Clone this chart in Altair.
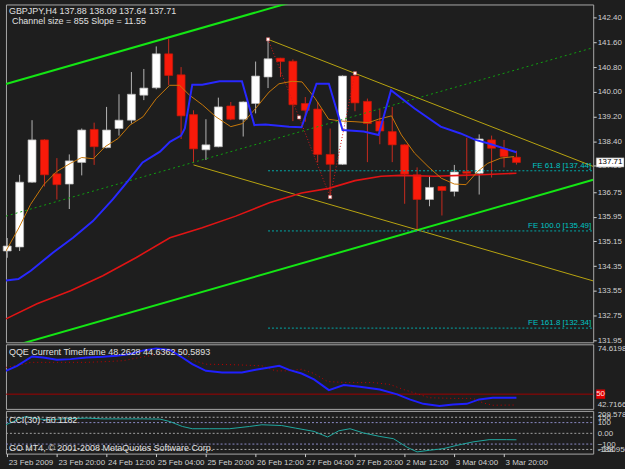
import altair as alt
import pandas as pd

BG = "#1e1e1e"
FONT = "Liberation Sans"

# ---------------- data ----------------
bar_k = list(range(42))
opens = [134.84, 134.97, 137.07, 138.44, 137.34, 137.01, 137.71, 138.78, 138.19, 138.81,
         139.08, 139.89, 140.13, 141.23, 140.55, 139.26, 138.12, 138.22, 139.54, 139.11,
         139.62, 140.48, 141.09, 140.99, 139.62, 139.44, 137.97, 137.65, 140.51, 139.69,
         139.05, 138.71, 138.28, 137.31, 136.51, 136.93, 136.77, 137.42, 137.36, 138.44,
         138.15, 137.88]
highs = [135.26, 137.31, 139.08, 138.46, 137.85, 137.97, 138.81, 139.00, 139.51, 139.92,
         140.64, 140.74, 141.47, 141.71, 140.80, 139.40, 139.11, 139.81, 139.67, 139.69,
         140.98, 141.70, 141.10, 141.05, 139.83, 139.67, 138.81, 140.53, 140.60, 139.78,
         139.44, 139.51, 138.30, 137.55, 137.26, 136.95, 137.63, 138.51, 138.62, 138.58,
         138.44, 138.09]
lows = [134.62, 134.84, 137.05, 136.93, 136.51, 136.20, 137.29, 137.63, 138.17, 138.58,
        138.97, 139.73, 140.08, 140.21, 138.47, 137.69, 137.79, 138.20, 139.08, 138.55,
        139.30, 140.12, 140.48, 139.05, 139.03, 137.71, 136.61, 137.63, 139.37, 137.72,
        138.30, 137.72, 136.37, 135.51, 136.29, 135.99, 136.61, 137.15, 136.67, 137.22,
        137.55, 137.64]
closes = [135.00, 137.07, 138.44, 137.31, 136.99, 137.76, 138.76, 138.22, 138.76, 139.08,
          139.92, 140.12, 141.23, 140.53, 139.22, 138.15, 138.28, 139.51, 139.11, 139.67,
          140.51, 141.07, 140.98, 139.58, 139.40, 137.97, 137.65, 140.51, 139.64, 138.97,
          138.73, 138.28, 137.33, 136.51, 136.90, 136.80, 137.40, 137.36, 138.47, 138.17,
          137.90, 137.71]

red_ma_k = [-0.1, 2.4, 5.1, 7.7, 10.4, 13.1, 15.7, 18.4, 21.1, 23.7, 25.9, 28.0, 30.1,
            31.7, 34.4, 36.5, 38.1, 41.0]
red_ma_v = [132.64, 133.13, 133.55, 134.04, 134.63, 135.27, 135.59, 135.97, 136.40, 136.72,
            136.87, 137.12, 137.26, 137.29, 137.26, 137.29, 137.31, 137.36]

blue_k = [-0.1, 0.9, 1.9, 3.7, 5.3, 6.9, 8.5, 9.7, 10.9, 12.3, 13.1, 14.0, 14.3, 14.9, 15.7,
          17.1, 18.9, 19.9, 20.8, 22.7, 23.7, 24.9, 25.9, 27.0, 28.7, 29.9, 30.9, 32.8, 34.9,
          36.5, 37.7, 38.7, 41.0]
blue_v = [133.88, 133.93, 134.20, 134.79, 135.27, 135.81, 136.51, 137.10, 137.71, 138.06,
          138.38, 138.58, 138.81, 140.23, 140.23, 140.34, 140.34, 138.92, 138.94, 138.87,
          138.85, 140.26, 140.26, 138.76, 138.71, 138.60, 140.05, 139.46, 138.87, 138.65,
          138.44, 138.33, 138.04]

orange_k = [-0.1, 0.94, 1.88, 2.94, 4.0, 5.08, 6.0, 6.94, 7.88, 8.94, 9.88, 10.94, 12.0, 13.08,
            13.88, 14.68, 15.74, 16.8, 18.0, 18.94, 20.0, 21.08, 21.88, 22.94, 23.74, 24.8,
            25.88, 26.94, 28.0, 29.08, 29.88, 30.94, 31.74, 32.8, 33.88, 34.94, 36.0, 36.94,
            37.88, 38.68, 39.74, 40.8]
orange_v = [134.84, 135.59, 136.35, 136.99, 137.42, 137.68, 137.87, 137.83, 138.22, 138.49,
            138.92, 139.19, 139.78, 140.21, 140.21, 139.89, 139.57, 139.19, 138.87, 138.97,
            139.46, 139.99, 140.26, 140.34, 140.32, 139.78, 139.11, 139.05, 139.03, 139.00,
            139.11, 139.22, 138.60, 138.01, 137.58, 137.20, 137.01, 136.99, 137.42, 137.68,
            137.85, 137.90]

# regression channel (green) and descending lines (yellow): end points
chan_k = [-0.1, 47.18]
chan_upper = [140.25, 145.71]
chan_mid = [135.97, 141.43]
chan_lower = [131.69, 137.15]
yel_up_k = [21, 47.18]
yel_up_v = [141.70, 137.58]
yel_lo_k = [15, 47.18]
yel_lo_v = [137.63, 133.87]

zz_k = [21, 23.5, 26, 28]
zz_v = [141.70, 139.17, 136.59, 140.60]

fe_start = 21
fe_levels = [137.44, 135.49, 132.34]
fe_labels = ["FE 61.8 [137.44]", "FE 100.0 [135.49]", "FE 161.8 [132.34]"]

price_ticks = [142.40, 141.60, 140.80, 140.00, 139.20, 138.40, 137.60, 136.75, 135.95,
               135.15, 134.35, 133.55, 132.75, 131.95]
last_price = 137.71

qqe_k = [-0.1, 0.8, 2.0, 2.9, 4.0, 5.1, 6.4, 7.7, 8.8, 9.9, 10.9, 12.0, 13.1, 14.1, 14.9, 16.0,
         17.3, 18.9, 20.0, 21.1, 21.9, 22.7, 23.7, 24.7, 25.9, 27.1, 28.4, 30.0, 31.4, 32.4,
         33.5, 34.8, 35.9, 37.0, 38.0, 39.1, 41.0]
qqe_v = [61.5, 64.0, 68.6, 68.1, 67.0, 67.3, 68.1, 68.5, 69.0, 69.8, 71.5, 72.6, 71.8, 68.1,
         64.8, 61.5, 60.7, 60.7, 62.0, 63.2, 64.0, 62.0, 60.2, 57.3, 52.0, 54.5, 53.7, 52.3,
         49.9, 47.4, 45.2, 44.1, 44.9, 45.2, 47.4, 48.2, 48.26]
sig_k = [-0.1, 1.3, 1.9, 3.7, 6.4, 7.7, 9.3, 10.4, 11.5, 12.5, 13.6, 14.1, 14.9, 16.0, 18.4,
         20.5, 21.6, 22.7, 23.7, 24.7, 25.8, 27.4, 29.5, 30.8, 31.9, 33.0, 34.0, 35.9, 37.5,
         38.3, 39.1, 41.0]
sig_v = [63.2, 64.8, 65.7, 65.7, 65.7, 66.0, 66.5, 67.8, 69.0, 70.6, 71.8, 71.8, 66.8, 64.8,
         64.5, 64.0, 61.5, 61.5, 62.3, 60.2, 56.2, 55.7, 55.7, 54.8, 52.3, 50.2, 48.2, 47.9,
         47.9, 45.7, 44.5, 44.64]
qqe_min, qqe_max, qqe_level = 42.7166, 74.6198, 50

cci_k = [-0.1, 0.8, 1.5, 2.1, 3.2, 4.5, 6.4, 7.7, 9.3, 10.9, 12.3, 13.1, 14.1, 14.9, 16.3, 17.9,
         19.5, 20.5, 22.1, 23.2, 24.7, 25.8, 26.7, 27.6, 28.7, 30.0, 31.1, 32.2, 33.0, 34.0,
         35.1, 36.2, 37.5, 38.8, 40.2, 41.0]
cci_v = [80, 126, 157, 142, 126, 135, 142, 135, 135, 135, 133, 110, 64, 43, 43, 43, 64, 80, 73,
         49, 18, -34, 24, 43, 3, -29, -50, -130, -173, -158, -143, -112, -80, -59, -59, -60.12]
cci_min, cci_max = -188.95, 209.5784
cci_levels = [150, 100, 0, -100, -150]
cci_level_colors = ["#a8a8a8", "#8c8cc8", "#a0a0a0", "#8c8cc8", "#a8a8a8"]

date_ticks = [0, 4, 8, 12, 16, 20, 24, 28, 32, 36, 40]
date_labels = ["23 Feb 2009", "23 Feb 20:00", "24 Feb 12:00", "25 Feb 04:00", "25 Feb 20:00",
               "26 Feb 12:00", "27 Feb 04:00", "27 Feb 20:00", "2 Mar 12:00", "3 Mar 04:00",
               "3 Mar 20:00"]

title_text = "GBPJPY,H4  137.88 138.09 137.64 137.71"
channel_text = "Channel size = 855 Slope = 11.55"
qqe_text = "QQE Current Timeframe 48.2628 44.6362 50.5893"
cci_text = "CCI(30) -60.1182"
copy_text = "GO MT4, \u00a9 2001-2008 MetaQuotes Software Corp."

# ---------------- scales / axes ----------------
W = 591
xs = alt.Scale(domain=[-0.1, 47.18], nice=False, zero=False)
ys_main = alt.Scale(domain=[131.88, 142.83], nice=False, zero=False)
ys_qqe = alt.Scale(domain=[qqe_min, qqe_max], nice=False, zero=False)
ys_cci = alt.Scale(domain=[cci_min, cci_max], nice=False, zero=False)

AX_COL = "#d0d0d0"
main_axis = alt.Axis(orient="right", values=price_ticks, format=".2f", tickSize=3,
                     labelPadding=1, domain=False, grid=False, title=None, labelOverlap=False,
                     labelColor=AX_COL, tickColor=AX_COL, labelFont=FONT, labelFontSize=8,
                     labelFlush=False)
qqe_axis = alt.Axis(orient="right", values=[qqe_max, qqe_min], format=".4f", tickSize=0,
                    labelPadding=4, domain=False, grid=False, title=None, labelOverlap=False,
                    labelColor=AX_COL, labelFont=FONT, labelFontSize=8, labelFlush=True)
cci_label_expr = ("datum.value > 200 ? '209.5784' : datum.value < -180 ? '-188.950' : "
                  "datum.value == 0 ? '0.00' : format(datum.value, 'd')")
cci_axis = alt.Axis(orient="right", values=[cci_max] + cci_levels + [cci_min],
                    labelExpr=cci_label_expr, tickSize=0, labelPadding=4, domain=False,
                    grid=False, title=None, labelOverlap=False, labelColor=AX_COL,
                    labelFont=FONT, labelFontSize=8, labelFlush=True)
date_expr = "[" + ",".join("'%s'" % s for s in date_labels) + "][round(datum.value / 4)]"
x_axis = alt.Axis(values=date_ticks, labelExpr=date_expr, labelAlign="left", labelOffset=1,
                  labelPadding=2, tickSize=3, domain=False, grid=False, title=None,
                  labelOverlap=False, labelFlush=False, labelBound=False, labelColor=AX_COL,
                  tickColor=AX_COL, labelFont=FONT, labelFontSize=8)


def X(f):
    return alt.X(f, type="quantitative", scale=xs, axis=None)


def XC(f):
    return alt.X(f, type="quantitative", scale=xs, axis=x_axis)


def YM(f):
    return alt.Y(f, type="quantitative", scale=ys_main, axis=main_axis)


def line_df(ks, vs):
    return pd.DataFrame({"k": ks, "v": vs})


# ---------------- main price panel ----------------
cdf = pd.DataFrame({"k": bar_k, "open": opens, "high": highs, "low": lows, "close": closes})
cdf["bull"] = cdf["close"] >= cdf["open"]
cdf["left"] = cdf["k"] - 0.32
cdf["right"] = cdf["k"] + 0.32
cdf["body_top"] = cdf[["open", "close"]].max(axis=1)
cdf["body_bot"] = cdf[["open", "close"]].min(axis=1)

wicks = alt.Chart(cdf).mark_rule(strokeWidth=1).encode(
    x=X("k"), y=YM("low"), y2="high",
    color=alt.condition("datum.bull", alt.value("#b4b4b4"), alt.value("#c82a1e")))
bodies = alt.Chart(cdf).mark_rect(strokeWidth=0.7).encode(
    x=X("left"), x2="right", y=YM("body_bot"), y2="body_top",
    fill=alt.condition("datum.bull", alt.value("#ffffff"), alt.value("#f81a0a")),
    stroke=alt.condition("datum.bull", alt.value("#b8b8b8"), alt.value("#c81808")))


def simple_line(ks, vs, color, width=1, dash=None, clip=True):
    kw = dict(color=color, strokeWidth=width, clip=clip)
    if dash:
        kw["strokeDash"] = dash
    return alt.Chart(line_df(ks, vs)).mark_line(**kw).encode(x=X("k"), y=YM("v"))


green_up = simple_line(chan_k, chan_upper, "#14e614", 2)
green_lo = simple_line(chan_k, chan_lower, "#14e614", 2)
green_mid = simple_line(chan_k, chan_mid, "#10a010", 1, [2, 3])
yel_up = simple_line(yel_up_k, yel_up_v, "#b8a410", 1)
yel_lo = simple_line(yel_lo_k, yel_lo_v, "#b8a410", 1)
red_ma = simple_line(red_ma_k, red_ma_v, "#e01414", 1.6)
blue_ma = simple_line(blue_k, blue_v, "#2828ff", 2)
orange_ma = simple_line(orange_k, orange_v, "#c8780a", 1)
zigzag = simple_line(zz_k, zz_v, "#d01818", 1, [1, 2])
zz_pts = alt.Chart(line_df(zz_k, zz_v)).mark_square(
    size=10, fill="#ffffff", stroke="#e06060", strokeWidth=0.6, opacity=1).encode(
    x=X("k"), y=YM("v"))

fedf = pd.DataFrame({"lv": fe_levels, "lab": fe_labels, "k0": fe_start, "k1": 47.18})
fe_lines = alt.Chart(fedf).mark_rule(color="#00a8a8", strokeWidth=1, strokeDash=[2, 2]).encode(
    x=X("k0"), x2="k1", y=YM("lv"))
fe_text = alt.Chart(fedf).mark_text(align="right", baseline="bottom", dy=-1, font=FONT,
                                    fontSize=8, color="#00c4c4").encode(
    x=alt.value(W - 2), y=YM("lv"), text="lab:N")

hdr = pd.DataFrame({"t": [title_text, channel_text], "yy": [7, 17], "xx": [3, 6]})
hdr_text = alt.Chart(hdr).mark_text(align="left", baseline="middle", font=FONT, fontSize=9,
                                    color="#e0e0e0").encode(
    x=alt.X("xx:Q", scale=None), y=alt.Y("yy:Q", scale=None), text="t:N")

pbox = pd.DataFrame({"p": [last_price]})
pbox_rect = alt.Chart(pbox).transform_calculate(
    a="datum.p + 0.15", b="datum.p - 0.15").mark_rect(
    fill="#ffffff", stroke="#808080", strokeWidth=0.5).encode(
    x=alt.value(W + 3), x2=alt.value(W + 31), y=YM("a:Q"), y2="b:Q")
pbox_text = alt.Chart(pbox).mark_text(align="left", baseline="middle", font=FONT, fontSize=8,
                                      color="#000000").encode(
    x=alt.value(W + 5), y=YM("p"), text=alt.Text("p:Q", format=".2f"))

main = alt.layer(wicks, bodies, green_mid, green_up, green_lo, yel_up, yel_lo, fe_lines,
                 red_ma, orange_ma, blue_ma, zigzag, zz_pts, fe_text, hdr_text,
                 pbox_rect, pbox_text).properties(width=W, height=340)


# ---------------- QQE panel ----------------
def YQ(f):
    return alt.Y(f, type="quantitative", scale=ys_qqe, axis=qqe_axis)


lvl = pd.DataFrame({"v": [qqe_level]})
qqe_lvl = alt.Chart(lvl).mark_rule(color="#a00000", strokeWidth=1).encode(y=YQ("v"))
qqe_line = alt.Chart(line_df(qqe_k, qqe_v)).mark_line(color="#2020ff", strokeWidth=2,
                                                      clip=True).encode(x=X("k"), y=YQ("v"))
sig_line = alt.Chart(line_df(sig_k, sig_v)).mark_line(
    color="#c00000", strokeWidth=1, strokeDash=[1, 3], clip=True).encode(x=X("k"), y=YQ("v"))
qqe_title = alt.Chart(pd.DataFrame({"t": [qqe_text]})).mark_text(
    align="left", baseline="middle", font=FONT, fontSize=9, color="#e0e0e0").encode(
    x=alt.value(3), y=alt.value(8), text="t:N")
lvl_box = alt.Chart(lvl).transform_calculate(a="datum.v + 2.3", b="datum.v - 2.3").mark_rect(
    fill="#e00000").encode(x=alt.value(W + 3), x2=alt.value(W + 12), y=YQ("a:Q"), y2="b:Q")
lvl_text = alt.Chart(lvl).mark_text(align="left", baseline="middle", font=FONT, fontSize=8,
                                    color="#ffe0e0").encode(
    x=alt.value(W + 3), y=YQ("v"), text=alt.Text("v:Q", format="d"))
qqe = alt.layer(qqe_lvl, sig_line, qqe_line, qqe_title, lvl_box, lvl_text).properties(
    width=W, height=65)


# ---------------- CCI panel ----------------
def YC(f):
    return alt.Y(f, type="quantitative", scale=ys_cci, axis=cci_axis)


cl = pd.DataFrame({"v": cci_levels, "c": cci_level_colors})
cci_lv = alt.Chart(cl).mark_rule(strokeWidth=1, strokeDash=[2, 2]).encode(
    x=alt.value(0), x2=alt.value(W), y=YC("v"), color=alt.Color("c:N", scale=None))
cci_line = alt.Chart(line_df(cci_k, cci_v)).mark_line(
    color="#20a8a0", strokeWidth=1, clip=True).encode(x=XC("k"), y=YC("v"))
cci_txt = pd.DataFrame({"t": [cci_text, copy_text], "yy": [9, 37]})
cci_title = alt.Chart(cci_txt).mark_text(align="left", baseline="middle", font=FONT,
                                         fontSize=9, color="#e0e0e0").encode(
    x=alt.value(3), y=alt.Y("yy:Q", scale=None), text="t:N")
cci = alt.layer(cci_lv, cci_line, cci_title).properties(width=W, height=43)

chart = alt.vconcat(main, qqe, cci, spacing=2, bounds="flush").properties(
    background=BG, padding={"left": 2, "top": 2, "right": -6, "bottom": 1}
).configure_view(stroke="#a8a8a8", strokeWidth=1, fill=BG)

chart.save("out.html", embed_options={"renderer": "svg", "actions": False})
